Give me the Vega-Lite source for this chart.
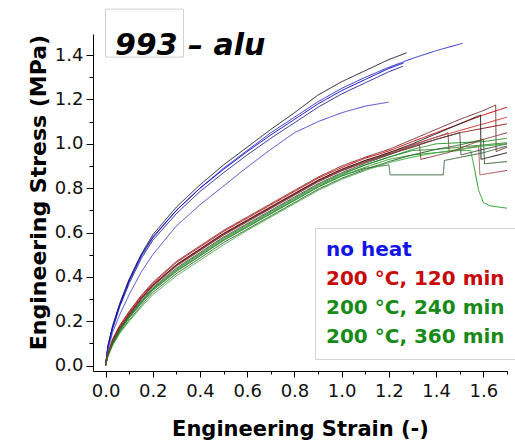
{
  "$schema": "https://vega.github.io/schema/vega-lite/v6.json",
  "width": 414,
  "height": 337,
  "autosize": "none",
  "padding": {"left": 93, "top": 34, "right": 8, "bottom": 73},
  "background": "white",
  "config": {"view": {"stroke": null}, "font": "DejaVu Sans"},
  "resolve": {"axis": {"x": "independent", "y": "independent"}},
  "datasets": {
    "specimens": [
      {"s": "b1", "g": "no heat"}, {"s": "b2", "g": "no heat"}, {"s": "b3", "g": "no heat"}, {"s": "b4", "g": "no heat"}, {"s": "b5", "g": "no heat"},
      {"s": "r1", "g": "200 °C, 120 min"}, {"s": "r2", "g": "200 °C, 120 min"}, {"s": "r3", "g": "200 °C, 120 min"}, {"s": "r4", "g": "200 °C, 120 min"}, {"s": "r5", "g": "200 °C, 120 min"}, {"s": "r6", "g": "200 °C, 120 min"},
      {"s": "g1", "g": "200 °C, 240 min"}, {"s": "g2", "g": "200 °C, 240 min"}, {"s": "g3", "g": "200 °C, 240 min"}, {"s": "g4", "g": "200 °C, 240 min"},
      {"s": "h1", "g": "200 °C, 360 min"}, {"s": "h2", "g": "200 °C, 360 min"}, {"s": "h3", "g": "200 °C, 360 min"}, {"s": "h4", "g": "200 °C, 360 min"}
    ],
    "curves": [
      {"s":"b1","x":0,"y":0},{"s":"b1","x":0.01,"y":0.09},{"s":"b1","x":0.03,"y":0.18},{"s":"b1","x":0.06,"y":0.28},{"s":"b1","x":0.1,"y":0.39},{"s":"b1","x":0.15,"y":0.5},{"s":"b1","x":0.2,"y":0.59},{"s":"b1","x":0.3,"y":0.715},{"s":"b1","x":0.4,"y":0.815},{"s":"b1","x":0.5,"y":0.905},{"s":"b1","x":0.6,"y":0.985},{"s":"b1","x":0.7,"y":1.065},{"s":"b1","x":0.8,"y":1.14},{"s":"b1","x":0.9,"y":1.22},{"s":"b1","x":1.0,"y":1.28},{"s":"b1","x":1.1,"y":1.33},{"s":"b1","x":1.2,"y":1.38},{"s":"b1","x":1.275,"y":1.41},
      {"s":"b2","x":0,"y":0},{"s":"b2","x":0.01,"y":0.08},{"s":"b2","x":0.03,"y":0.17},{"s":"b2","x":0.06,"y":0.27},{"s":"b2","x":0.1,"y":0.38},{"s":"b2","x":0.15,"y":0.49},{"s":"b2","x":0.2,"y":0.575},{"s":"b2","x":0.3,"y":0.7},{"s":"b2","x":0.4,"y":0.8},{"s":"b2","x":0.5,"y":0.89},{"s":"b2","x":0.6,"y":0.97},{"s":"b2","x":0.7,"y":1.05},{"s":"b2","x":0.8,"y":1.12},{"s":"b2","x":0.9,"y":1.19},{"s":"b2","x":1.0,"y":1.25},{"s":"b2","x":1.1,"y":1.3},{"s":"b2","x":1.2,"y":1.345},{"s":"b2","x":1.3,"y":1.385},{"s":"b2","x":1.4,"y":1.42},{"s":"b2","x":1.512,"y":1.453},
      {"s":"b3","x":0,"y":0},{"s":"b3","x":0.01,"y":0.085},{"s":"b3","x":0.03,"y":0.175},{"s":"b3","x":0.06,"y":0.275},{"s":"b3","x":0.1,"y":0.385},{"s":"b3","x":0.15,"y":0.495},{"s":"b3","x":0.2,"y":0.58},{"s":"b3","x":0.3,"y":0.7},{"s":"b3","x":0.4,"y":0.8},{"s":"b3","x":0.5,"y":0.885},{"s":"b3","x":0.6,"y":0.965},{"s":"b3","x":0.7,"y":1.04},{"s":"b3","x":0.8,"y":1.11},{"s":"b3","x":0.9,"y":1.18},{"s":"b3","x":1.0,"y":1.24},{"s":"b3","x":1.1,"y":1.29},{"s":"b3","x":1.2,"y":1.34},{"s":"b3","x":1.262,"y":1.364},
      {"s":"b4","x":0,"y":0},{"s":"b4","x":0.01,"y":0.08},{"s":"b4","x":0.03,"y":0.165},{"s":"b4","x":0.06,"y":0.265},{"s":"b4","x":0.1,"y":0.37},{"s":"b4","x":0.15,"y":0.48},{"s":"b4","x":0.2,"y":0.565},{"s":"b4","x":0.3,"y":0.685},{"s":"b4","x":0.4,"y":0.785},{"s":"b4","x":0.5,"y":0.87},{"s":"b4","x":0.6,"y":0.95},{"s":"b4","x":0.7,"y":1.025},{"s":"b4","x":0.8,"y":1.095},{"s":"b4","x":0.9,"y":1.165},{"s":"b4","x":1.0,"y":1.225},{"s":"b4","x":1.1,"y":1.275},{"s":"b4","x":1.2,"y":1.325},{"s":"b4","x":1.26,"y":1.35},
      {"s":"b5","x":0,"y":0},{"s":"b5","x":0.01,"y":0.07},{"s":"b5","x":0.03,"y":0.15},{"s":"b5","x":0.06,"y":0.23},{"s":"b5","x":0.1,"y":0.32},{"s":"b5","x":0.15,"y":0.42},{"s":"b5","x":0.2,"y":0.5},{"s":"b5","x":0.3,"y":0.63},{"s":"b5","x":0.4,"y":0.725},{"s":"b5","x":0.5,"y":0.81},{"s":"b5","x":0.6,"y":0.895},{"s":"b5","x":0.7,"y":0.975},{"s":"b5","x":0.8,"y":1.05},{"s":"b5","x":0.9,"y":1.1},{"s":"b5","x":1.0,"y":1.14},{"s":"b5","x":1.1,"y":1.17},{"s":"b5","x":1.199,"y":1.188},

      {"s":"r1","x":0,"y":0},{"s":"r1","x":0.01,"y":0.055},{"s":"r1","x":0.03,"y":0.12},{"s":"r1","x":0.06,"y":0.18},{"s":"r1","x":0.1,"y":0.245},{"s":"r1","x":0.15,"y":0.315},{"s":"r1","x":0.2,"y":0.375},{"s":"r1","x":0.3,"y":0.47},{"s":"r1","x":0.4,"y":0.54},{"s":"r1","x":0.5,"y":0.61},{"s":"r1","x":0.6,"y":0.67},{"s":"r1","x":0.7,"y":0.73},{"s":"r1","x":0.8,"y":0.79},{"s":"r1","x":0.9,"y":0.85},{"s":"r1","x":1.0,"y":0.9},{"s":"r1","x":1.1,"y":0.94},{"s":"r1","x":1.2,"y":0.975},{"s":"r1","x":1.3,"y":1.02},{"s":"r1","x":1.4,"y":1.065},{"s":"r1","x":1.5,"y":1.11},{"s":"r1","x":1.6,"y":1.15},{"s":"r1","x":1.652,"y":1.175},{"s":"r1","x":1.654,"y":0.965},{"s":"r1","x":1.7,"y":0.985},
      {"s":"r2","x":0,"y":0},{"s":"r2","x":0.01,"y":0.055},{"s":"r2","x":0.03,"y":0.115},{"s":"r2","x":0.06,"y":0.18},{"s":"r2","x":0.1,"y":0.24},{"s":"r2","x":0.15,"y":0.31},{"s":"r2","x":0.2,"y":0.37},{"s":"r2","x":0.3,"y":0.465},{"s":"r2","x":0.4,"y":0.535},{"s":"r2","x":0.5,"y":0.605},{"s":"r2","x":0.6,"y":0.665},{"s":"r2","x":0.7,"y":0.725},{"s":"r2","x":0.8,"y":0.785},{"s":"r2","x":0.9,"y":0.845},{"s":"r2","x":1.0,"y":0.893},{"s":"r2","x":1.1,"y":0.935},{"s":"r2","x":1.2,"y":0.968},{"s":"r2","x":1.3,"y":1.01},{"s":"r2","x":1.4,"y":1.05},{"s":"r2","x":1.5,"y":1.09},{"s":"r2","x":1.6,"y":1.13},{"s":"r2","x":1.7,"y":1.165},
      {"s":"r3","x":0,"y":0},{"s":"r3","x":0.01,"y":0.05},{"s":"r3","x":0.03,"y":0.11},{"s":"r3","x":0.06,"y":0.17},{"s":"r3","x":0.1,"y":0.235},{"s":"r3","x":0.15,"y":0.305},{"s":"r3","x":0.2,"y":0.365},{"s":"r3","x":0.3,"y":0.455},{"s":"r3","x":0.4,"y":0.527},{"s":"r3","x":0.5,"y":0.597},{"s":"r3","x":0.6,"y":0.657},{"s":"r3","x":0.7,"y":0.717},{"s":"r3","x":0.8,"y":0.777},{"s":"r3","x":0.9,"y":0.837},{"s":"r3","x":1.0,"y":0.885},{"s":"r3","x":1.1,"y":0.925},{"s":"r3","x":1.2,"y":0.96},{"s":"r3","x":1.3,"y":0.995},{"s":"r3","x":1.4,"y":1.03},{"s":"r3","x":1.5,"y":1.06},{"s":"r3","x":1.6,"y":1.09},{"s":"r3","x":1.7,"y":1.12},
      {"s":"r4","x":0,"y":0},{"s":"r4","x":0.01,"y":0.05},{"s":"r4","x":0.03,"y":0.11},{"s":"r4","x":0.06,"y":0.17},{"s":"r4","x":0.1,"y":0.23},{"s":"r4","x":0.15,"y":0.3},{"s":"r4","x":0.2,"y":0.36},{"s":"r4","x":0.3,"y":0.452},{"s":"r4","x":0.4,"y":0.522},{"s":"r4","x":0.5,"y":0.592},{"s":"r4","x":0.6,"y":0.652},{"s":"r4","x":0.7,"y":0.712},{"s":"r4","x":0.8,"y":0.772},{"s":"r4","x":0.9,"y":0.832},{"s":"r4","x":1.0,"y":0.88},{"s":"r4","x":1.1,"y":0.918},{"s":"r4","x":1.2,"y":0.952},{"s":"r4","x":1.3,"y":0.985},{"s":"r4","x":1.4,"y":1.02},{"s":"r4","x":1.5,"y":1.05},{"s":"r4","x":1.6,"y":1.07},{"s":"r4","x":1.7,"y":1.09},
      {"s":"r5","x":0,"y":0},{"s":"r5","x":0.01,"y":0.05},{"s":"r5","x":0.03,"y":0.11},{"s":"r5","x":0.06,"y":0.17},{"s":"r5","x":0.1,"y":0.232},{"s":"r5","x":0.15,"y":0.302},{"s":"r5","x":0.2,"y":0.362},{"s":"r5","x":0.3,"y":0.455},{"s":"r5","x":0.4,"y":0.525},{"s":"r5","x":0.5,"y":0.595},{"s":"r5","x":0.6,"y":0.655},{"s":"r5","x":0.7,"y":0.715},{"s":"r5","x":0.8,"y":0.775},{"s":"r5","x":0.9,"y":0.835},{"s":"r5","x":1.0,"y":0.885},{"s":"r5","x":1.1,"y":0.925},{"s":"r5","x":1.2,"y":0.96},{"s":"r5","x":1.3,"y":1.0},{"s":"r5","x":1.4,"y":1.045},{"s":"r5","x":1.5,"y":1.09},{"s":"r5","x":1.588,"y":1.13},{"s":"r5","x":1.59,"y":0.93},{"s":"r5","x":1.7,"y":0.96},
      {"s":"r6","x":0,"y":0},{"s":"r6","x":0.01,"y":0.05},{"s":"r6","x":0.03,"y":0.108},{"s":"r6","x":0.06,"y":0.168},{"s":"r6","x":0.1,"y":0.228},{"s":"r6","x":0.15,"y":0.298},{"s":"r6","x":0.2,"y":0.358},{"s":"r6","x":0.3,"y":0.448},{"s":"r6","x":0.4,"y":0.518},{"s":"r6","x":0.5,"y":0.588},{"s":"r6","x":0.6,"y":0.648},{"s":"r6","x":0.7,"y":0.708},{"s":"r6","x":0.8,"y":0.768},{"s":"r6","x":0.9,"y":0.828},{"s":"r6","x":1.0,"y":0.878},{"s":"r6","x":1.1,"y":0.918},{"s":"r6","x":1.2,"y":0.955},{"s":"r6","x":1.3,"y":0.995},{"s":"r6","x":1.4,"y":1.03},{"s":"r6","x":1.45,"y":1.05},{"s":"r6","x":1.455,"y":0.965},{"s":"r6","x":1.58,"y":0.99},{"s":"r6","x":1.585,"y":0.86},{"s":"r6","x":1.7,"y":0.88},

      {"s":"g1","x":0,"y":0},{"s":"g1","x":0.01,"y":0.045},{"s":"g1","x":0.03,"y":0.1},{"s":"g1","x":0.06,"y":0.16},{"s":"g1","x":0.1,"y":0.22},{"s":"g1","x":0.15,"y":0.285},{"s":"g1","x":0.2,"y":0.345},{"s":"g1","x":0.3,"y":0.43},{"s":"g1","x":0.4,"y":0.5},{"s":"g1","x":0.5,"y":0.57},{"s":"g1","x":0.6,"y":0.63},{"s":"g1","x":0.7,"y":0.69},{"s":"g1","x":0.8,"y":0.75},{"s":"g1","x":0.9,"y":0.81},{"s":"g1","x":1.0,"y":0.86},{"s":"g1","x":1.1,"y":0.905},{"s":"g1","x":1.2,"y":0.94},{"s":"g1","x":1.3,"y":0.975},{"s":"g1","x":1.4,"y":1.0},{"s":"g1","x":1.5,"y":1.005},{"s":"g1","x":1.6,"y":1.01},{"s":"g1","x":1.7,"y":1.025},
      {"s":"g2","x":0,"y":0},{"s":"g2","x":0.01,"y":0.045},{"s":"g2","x":0.03,"y":0.1},{"s":"g2","x":0.06,"y":0.16},{"s":"g2","x":0.1,"y":0.215},{"s":"g2","x":0.15,"y":0.28},{"s":"g2","x":0.2,"y":0.34},{"s":"g2","x":0.3,"y":0.425},{"s":"g2","x":0.4,"y":0.495},{"s":"g2","x":0.5,"y":0.565},{"s":"g2","x":0.6,"y":0.625},{"s":"g2","x":0.7,"y":0.685},{"s":"g2","x":0.8,"y":0.745},{"s":"g2","x":0.9,"y":0.805},{"s":"g2","x":1.0,"y":0.855},{"s":"g2","x":1.1,"y":0.89},{"s":"g2","x":1.2,"y":0.905},{"s":"g2","x":1.205,"y":0.86},{"s":"g2","x":1.43,"y":0.86},{"s":"g2","x":1.435,"y":0.925},{"s":"g2","x":1.6,"y":0.96},{"s":"g2","x":1.7,"y":0.99},
      {"s":"g3","x":0,"y":0},{"s":"g3","x":0.01,"y":0.045},{"s":"g3","x":0.03,"y":0.1},{"s":"g3","x":0.06,"y":0.155},{"s":"g3","x":0.1,"y":0.215},{"s":"g3","x":0.15,"y":0.28},{"s":"g3","x":0.2,"y":0.34},{"s":"g3","x":0.3,"y":0.425},{"s":"g3","x":0.4,"y":0.495},{"s":"g3","x":0.5,"y":0.565},{"s":"g3","x":0.6,"y":0.625},{"s":"g3","x":0.7,"y":0.685},{"s":"g3","x":0.8,"y":0.745},{"s":"g3","x":0.9,"y":0.805},{"s":"g3","x":1.0,"y":0.855},{"s":"g3","x":1.1,"y":0.895},{"s":"g3","x":1.2,"y":0.93},{"s":"g3","x":1.3,"y":0.95},{"s":"g3","x":1.4,"y":0.96},{"s":"g3","x":1.5,"y":0.97},{"s":"g3","x":1.546,"y":0.97},{"s":"g3","x":1.56,"y":0.9},{"s":"g3","x":1.58,"y":0.79},{"s":"g3","x":1.6,"y":0.735},{"s":"g3","x":1.63,"y":0.72},{"s":"g3","x":1.7,"y":0.71},
      {"s":"g4","x":0,"y":0},{"s":"g4","x":0.01,"y":0.048},{"s":"g4","x":0.03,"y":0.105},{"s":"g4","x":0.06,"y":0.165},{"s":"g4","x":0.1,"y":0.225},{"s":"g4","x":0.15,"y":0.292},{"s":"g4","x":0.2,"y":0.352},{"s":"g4","x":0.3,"y":0.44},{"s":"g4","x":0.4,"y":0.51},{"s":"g4","x":0.5,"y":0.58},{"s":"g4","x":0.6,"y":0.64},{"s":"g4","x":0.7,"y":0.7},{"s":"g4","x":0.8,"y":0.76},{"s":"g4","x":0.9,"y":0.82},{"s":"g4","x":1.0,"y":0.87},{"s":"g4","x":1.1,"y":0.912},{"s":"g4","x":1.2,"y":0.95},{"s":"g4","x":1.3,"y":0.99},{"s":"g4","x":1.4,"y":1.02},{"s":"g4","x":1.5,"y":1.05},{"s":"g4","x":1.505,"y":0.95},{"s":"g4","x":1.6,"y":0.975},{"s":"g4","x":1.7,"y":1.0},

      {"s":"h1","x":0,"y":0},{"s":"h1","x":0.01,"y":0.042},{"s":"h1","x":0.03,"y":0.095},{"s":"h1","x":0.06,"y":0.15},{"s":"h1","x":0.1,"y":0.205},{"s":"h1","x":0.15,"y":0.27},{"s":"h1","x":0.2,"y":0.33},{"s":"h1","x":0.3,"y":0.415},{"s":"h1","x":0.4,"y":0.485},{"s":"h1","x":0.5,"y":0.555},{"s":"h1","x":0.6,"y":0.615},{"s":"h1","x":0.7,"y":0.675},{"s":"h1","x":0.8,"y":0.735},{"s":"h1","x":0.9,"y":0.795},{"s":"h1","x":1.0,"y":0.845},{"s":"h1","x":1.1,"y":0.885},{"s":"h1","x":1.2,"y":0.92},{"s":"h1","x":1.3,"y":0.95},{"s":"h1","x":1.4,"y":0.975},{"s":"h1","x":1.5,"y":0.995},{"s":"h1","x":1.6,"y":1.02},{"s":"h1","x":1.605,"y":0.91},{"s":"h1","x":1.7,"y":0.92},
      {"s":"h2","x":0,"y":0},{"s":"h2","x":0.01,"y":0.04},{"s":"h2","x":0.03,"y":0.09},{"s":"h2","x":0.06,"y":0.145},{"s":"h2","x":0.1,"y":0.2},{"s":"h2","x":0.15,"y":0.262},{"s":"h2","x":0.2,"y":0.32},{"s":"h2","x":0.3,"y":0.405},{"s":"h2","x":0.4,"y":0.475},{"s":"h2","x":0.5,"y":0.545},{"s":"h2","x":0.6,"y":0.61},{"s":"h2","x":0.7,"y":0.67},{"s":"h2","x":0.8,"y":0.73},{"s":"h2","x":0.9,"y":0.79},{"s":"h2","x":1.0,"y":0.84},{"s":"h2","x":1.1,"y":0.88},{"s":"h2","x":1.2,"y":0.915},{"s":"h2","x":1.3,"y":0.94},{"s":"h2","x":1.4,"y":0.96},{"s":"h2","x":1.5,"y":0.975},{"s":"h2","x":1.6,"y":0.99},{"s":"h2","x":1.7,"y":1.0},
      {"s":"h3","x":0,"y":0},{"s":"h3","x":0.01,"y":0.046},{"s":"h3","x":0.03,"y":0.102},{"s":"h3","x":0.06,"y":0.16},{"s":"h3","x":0.1,"y":0.22},{"s":"h3","x":0.15,"y":0.287},{"s":"h3","x":0.2,"y":0.347},{"s":"h3","x":0.3,"y":0.435},{"s":"h3","x":0.4,"y":0.505},{"s":"h3","x":0.5,"y":0.575},{"s":"h3","x":0.6,"y":0.635},{"s":"h3","x":0.7,"y":0.695},{"s":"h3","x":0.8,"y":0.755},{"s":"h3","x":0.9,"y":0.815},{"s":"h3","x":1.0,"y":0.865},{"s":"h3","x":1.1,"y":0.905},{"s":"h3","x":1.2,"y":0.94},{"s":"h3","x":1.3,"y":0.97},{"s":"h3","x":1.4,"y":0.975},{"s":"h3","x":1.5,"y":0.985},{"s":"h3","x":1.6,"y":0.995},{"s":"h3","x":1.7,"y":1.005},
      {"s":"h4","x":0,"y":0},{"s":"h4","x":0.01,"y":0.05},{"s":"h4","x":0.03,"y":0.11},{"s":"h4","x":0.06,"y":0.17},{"s":"h4","x":0.1,"y":0.23},{"s":"h4","x":0.15,"y":0.3},{"s":"h4","x":0.2,"y":0.36},{"s":"h4","x":0.3,"y":0.45},{"s":"h4","x":0.4,"y":0.52},{"s":"h4","x":0.5,"y":0.59},{"s":"h4","x":0.6,"y":0.65},{"s":"h4","x":0.7,"y":0.71},{"s":"h4","x":0.8,"y":0.77},{"s":"h4","x":0.9,"y":0.83},{"s":"h4","x":1.0,"y":0.88},{"s":"h4","x":1.1,"y":0.92},{"s":"h4","x":1.2,"y":0.955},{"s":"h4","x":1.3,"y":0.985},{"s":"h4","x":1.33,"y":0.995},{"s":"h4","x":1.335,"y":0.93},{"s":"h4","x":1.45,"y":0.96},{"s":"h4","x":1.6,"y":1.02},{"s":"h4","x":1.7,"y":1.05}
    ]
  },
  "layer": [
    {
      "data": {"name": "curves"},
      "transform": [{"lookup": "s", "from": {"data": {"name": "specimens"}, "key": "s", "fields": ["g"]}}],
      "mark": {"type": "line", "strokeWidth": 1, "clip": false},
      "encoding": {
        "x": {
          "field": "x", "type": "quantitative",
          "scale": {"domain": [-0.053, 1.7], "nice": false, "zero": false},
          "axis": {
            "orient": "bottom",
            "title": "Engineering Strain (-)",
            "values": [0, 0.2, 0.4, 0.6, 0.8, 1.0, 1.2, 1.4, 1.6],
            "format": ".1f", "tickSize": 6,
            "labelOverlap": false, "labelFlush": false,
            "labelFont": "DejaVu Sans", "labelFontSize": 18, "labelPadding": 5, "labelColor": "#111111",
            "titleFont": "DejaVu Sans", "titleFontSize": 21, "titleFontWeight": "bold", "titleColor": "#000000", "titlePadding": 18,
            "domainColor": "#000000", "tickColor": "#000000", "grid": false
          }
        },
        "y": {
          "field": "y", "type": "quantitative",
          "scale": {"domain": [-0.024, 1.495], "nice": false, "zero": false},
          "axis": {
            "orient": "left",
            "title": "Engineering Stress (MPa)",
            "values": [0, 0.2, 0.4, 0.6, 0.8, 1.0, 1.2, 1.4],
            "format": ".1f", "tickSize": 7,
            "labelOverlap": false, "labelFlush": false,
            "labelFont": "DejaVu Sans", "labelFontSize": 18, "labelPadding": 3, "labelColor": "#111111",
            "titleFont": "DejaVu Sans", "titleFontSize": 22, "titleFontWeight": "bold", "titleColor": "#000000", "titlePadding": 4, "titleY": 158,
            "domainColor": "#000000", "tickColor": "#000000", "grid": false
          }
        },
        "color": {
          "field": "s", "type": "nominal", "legend": null,
          "scale": {
            "domain": ["b1","b2","b3","b4","b5","r1","r2","r3","r4","r5","r6","g1","g2","g3","g4","h1","h2","h3","h4"],
            "range": ["#1c1c30","#2b2bd0","#0000c4","#202090","#4646c8","#7a2a2a","#cc0000","#d42a2a","#8e1515","#1a1a1a","#a05050","#2e9e2e","#3a6a3a","#20a020","#444444","#2a5a2a","#3cb03c","#1e7e1e","#8a3a3a"]
          }
        },
        "strokeDash": {
          "field": "g", "type": "nominal",
          "scale": {
            "domain": ["no heat", "200 °C, 120 min", "200 °C, 240 min", "200 °C, 360 min"],
            "range": [[1, 0], [1, 0], [1, 0], [1, 0]]
          },
          "legend": {
            "orient": "none", "legendX": 222, "legendY": 194, "title": null,
            "padding": 12, "rowPadding": 9,
            "symbolType": "circle", "symbolSize": 0, "symbolStrokeWidth": 0, "symbolOpacity": 0, "labelOffset": -21,
            "labelFont": "DejaVu Sans", "labelFontSize": 20, "labelFontWeight": "bold", "labelLimit": 0,
            "strokeColor": "#d4d4d4", "fillColor": "#ffffff",
            "encode": {"labels": {"update": {"fill": {"signal": "datum.value === 'no heat' ? '#1414e6' : (datum.value === '200 °C, 120 min' ? '#c80a0a' : '#188a18')"}}}}
          }
        }
      }
    },
    {
      "data": {"values": [{}]},
      "mark": {"type": "rect", "fill": null, "stroke": "#d0d0d0", "strokeWidth": 1, "clip": false},
      "encoding": {
        "x": {"datum": 0.0, "type": "quantitative", "scale": {"domain": [-0.053, 1.7], "nice": false, "zero": false},
          "axis": {"orient": "bottom", "values": [0.1, 0.3, 0.5, 0.7, 0.9, 1.1, 1.3, 1.5, 1.7], "labels": false, "domain": false, "grid": false, "title": null, "tickSize": 3, "tickColor": "#000000"}},
        "x2": {"datum": 0.33},
        "y": {"datum": 1.391, "type": "quantitative", "scale": {"domain": [-0.024, 1.495], "nice": false, "zero": false},
          "axis": {"orient": "left", "values": [0.1, 0.3, 0.5, 0.7, 0.9, 1.1, 1.3], "labels": false, "domain": false, "grid": false, "title": null, "tickSize": 4, "tickColor": "#000000"}},
        "y2": {"datum": 1.607}
      }
    },
    {
      "data": {"values": [{"label": "993 – alu"}]},
      "mark": {"type": "text", "align": "left", "baseline": "alphabetic", "font": "DejaVu Sans", "fontSize": 30, "fontWeight": "bold", "fontStyle": "italic", "color": "#000000", "clip": false},
      "encoding": {
        "x": {"datum": 0.04, "type": "quantitative", "scale": {"domain": [-0.053, 1.7], "nice": false, "zero": false}, "axis": null},
        "y": {"datum": 1.4, "type": "quantitative", "scale": {"domain": [-0.024, 1.495], "nice": false, "zero": false}, "axis": null},
        "text": {"field": "label", "type": "nominal"}
      }
    }
  ]
}
